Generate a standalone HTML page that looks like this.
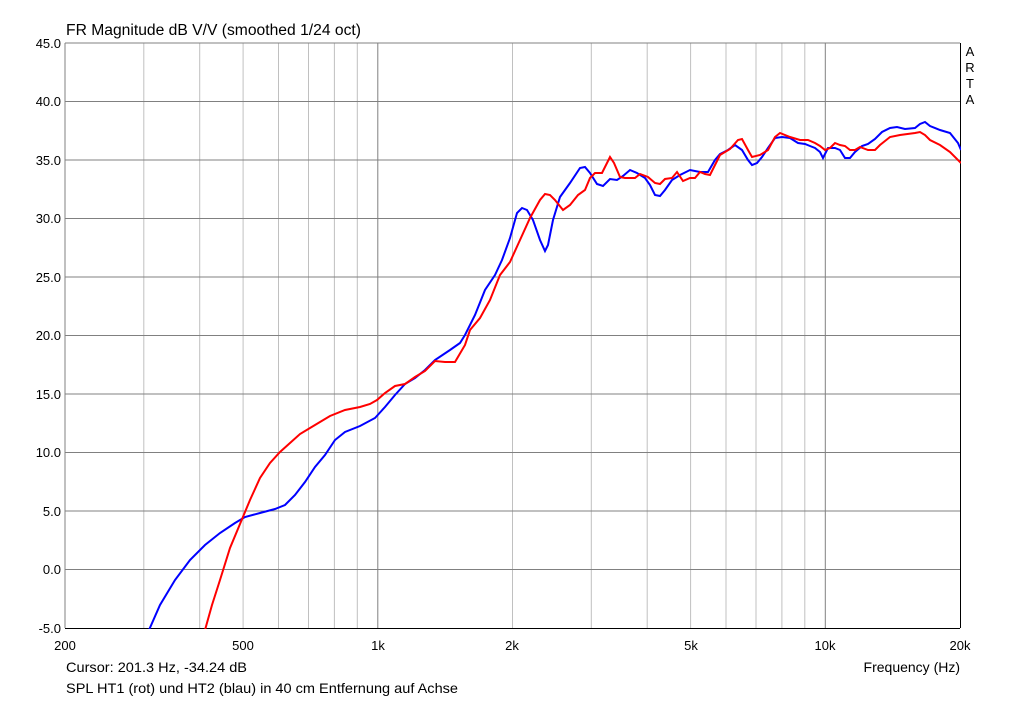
<!DOCTYPE html>
<html><head><meta charset="utf-8"><style>
html,body{margin:0;padding:0;background:#fff;}
svg{display:block;font-family:"Liberation Sans",sans-serif;font-size:13px;}
</style></head><body>
<svg width="1024" height="701" viewBox="0 0 1024 701">
<rect width="1024" height="701" fill="#fff"/>
<g stroke="#c0c0c0" stroke-width="1">
<line x1="143.8" y1="43" x2="143.8" y2="628"/>
<line x1="199.7" y1="43" x2="199.7" y2="628"/>
<line x1="243.1" y1="43" x2="243.1" y2="628"/>
<line x1="278.5" y1="43" x2="278.5" y2="628"/>
<line x1="308.5" y1="43" x2="308.5" y2="628"/>
<line x1="334.4" y1="43" x2="334.4" y2="628"/>
<line x1="357.3" y1="43" x2="357.3" y2="628"/>
<line x1="512.5" y1="43" x2="512.5" y2="628"/>
<line x1="591.3" y1="43" x2="591.3" y2="628"/>
<line x1="647.2" y1="43" x2="647.2" y2="628"/>
<line x1="690.6" y1="43" x2="690.6" y2="628"/>
<line x1="726.0" y1="43" x2="726.0" y2="628"/>
<line x1="756.0" y1="43" x2="756.0" y2="628"/>
<line x1="781.9" y1="43" x2="781.9" y2="628"/>
<line x1="804.8" y1="43" x2="804.8" y2="628"/>
</g>
<g stroke="#808080" stroke-width="1">
<line x1="377.8" y1="43" x2="377.8" y2="628"/>
<line x1="825.3" y1="43" x2="825.3" y2="628"/>
<line x1="65" y1="101.5" x2="960" y2="101.5"/>
<line x1="65" y1="160" x2="960" y2="160"/>
<line x1="65" y1="218.5" x2="960" y2="218.5"/>
<line x1="65" y1="277" x2="960" y2="277"/>
<line x1="65" y1="335.5" x2="960" y2="335.5"/>
<line x1="65" y1="394" x2="960" y2="394"/>
<line x1="65" y1="452.5" x2="960" y2="452.5"/>
<line x1="65" y1="511" x2="960" y2="511"/>
<line x1="65" y1="569.5" x2="960" y2="569.5"/>
<line x1="65" y1="43" x2="960" y2="43"/>
<line x1="65" y1="43" x2="65" y2="628"/>
</g>
<g stroke="#000" stroke-width="1">
<line x1="65" y1="628.5" x2="960" y2="628.5"/>
<line x1="960.5" y1="43" x2="960.5" y2="628"/>
</g>
<svg x="65" y="43" width="896" height="586" viewBox="65 43 896 586" overflow="hidden">
<polyline fill="none" stroke="#0000ff" stroke-width="2" points="149,630 160,605 175,580 190,560 205,545 220,533 235,523 245,517 260,513 275,509 285,505 295,495 305,482 315,467 325,455 335,440 345,432 360,426 375,418 385,407 395,395 405,384 415,378 425,370 435,360 450,350 460,343 465,335 475,315 485,290 495,275 502,260 510,238 517,213 522,208 527,210 533,220 540,240 545,251 548,245 553,220 560,197 570,183 580,168 585,167 590,173 597,184 603,186 610,179 617,180 623,176 630,170 637,173 645,178 650,185 655,195 660,196 665,190 672,180 680,175 690,170 700,172 708,172 715,160 720,154 728,150 735,145 742,150 748,160 752,165 757,163 762,157 768,148 775,138 782,137 790,138 798,143 805,144 810,146 815,148 820,152 823,158 828,148 835,148 840,150 845,158 850,158 855,152 862,146 868,144 875,139 882,132 890,128 897,127 905,129 915,128 920,124 925,122 930,126 940,130 950,133 958,143 961,150"/>
<polyline fill="none" stroke="#ff0000" stroke-width="2" points="205,630 212,605 220,580 230,548 240,524 250,500 260,478 270,463 280,452 290,443 300,434 310,428 320,422 330,416 345,410 360,407 370,404 377,400 385,393 395,386 405,384 415,377 425,371 435,361 445,362 455,362 465,345 470,330 480,318 490,300 500,275 510,262 520,240 530,218 540,200 545,194 550,195 555,200 563,210 570,205 578,195 585,190 590,178 595,173 602,173 607,163 610,157 614,163 620,177 625,178 635,178 640,174 648,177 655,183 660,184 665,179 672,178 677,172 683,181 690,178 695,178 700,172 705,174 710,175 715,165 720,155 730,149 738,140 742,139 748,150 752,157 760,155 768,150 775,137 780,133 790,137 800,140 808,140 815,143 820,146 825,150 830,148 835,143 840,145 845,146 850,150 855,150 860,147 868,150 875,150 880,145 890,137 900,135 915,133 920,132 925,135 930,140 940,145 950,152 961,163"/>
</svg>
<g fill="#000" text-anchor="end">
<text x="61" y="48">45.0</text>
<text x="61" y="106">40.0</text>
<text x="61" y="165">35.0</text>
<text x="61" y="223">30.0</text>
<text x="61" y="282">25.0</text>
<text x="61" y="340">20.0</text>
<text x="61" y="399">15.0</text>
<text x="61" y="457">10.0</text>
<text x="61" y="516">5.0</text>
<text x="61" y="574">0.0</text>
<text x="61" y="633">-5.0</text>
</g>
<g fill="#000" text-anchor="middle">
<text x="65" y="650">200</text>
<text x="243" y="650">500</text>
<text x="378" y="650">1k</text>
<text x="512" y="650">2k</text>
<text x="691" y="650">5k</text>
<text x="825" y="650">10k</text>
<text x="960" y="650">20k</text>
<text x="970" y="56">A</text>
<text x="970" y="72">R</text>
<text x="970" y="88">T</text>
<text x="970" y="104">A</text>
</g>
<text x="66" y="35" font-size="15.5" textLength="295" lengthAdjust="spacingAndGlyphs">FR Magnitude dB V/V (smoothed 1/24 oct)</text>
<text x="66" y="672" font-size="14" textLength="181" lengthAdjust="spacingAndGlyphs">Cursor: 201.3 Hz, -34.24 dB</text>
<text x="66" y="693" font-size="14" textLength="392" lengthAdjust="spacingAndGlyphs">SPL HT1 (rot) und HT2 (blau) in 40 cm Entfernung auf Achse</text>
<text x="960" y="672" text-anchor="end" font-size="14">Frequency (Hz)</text>
</svg>
</body></html>
